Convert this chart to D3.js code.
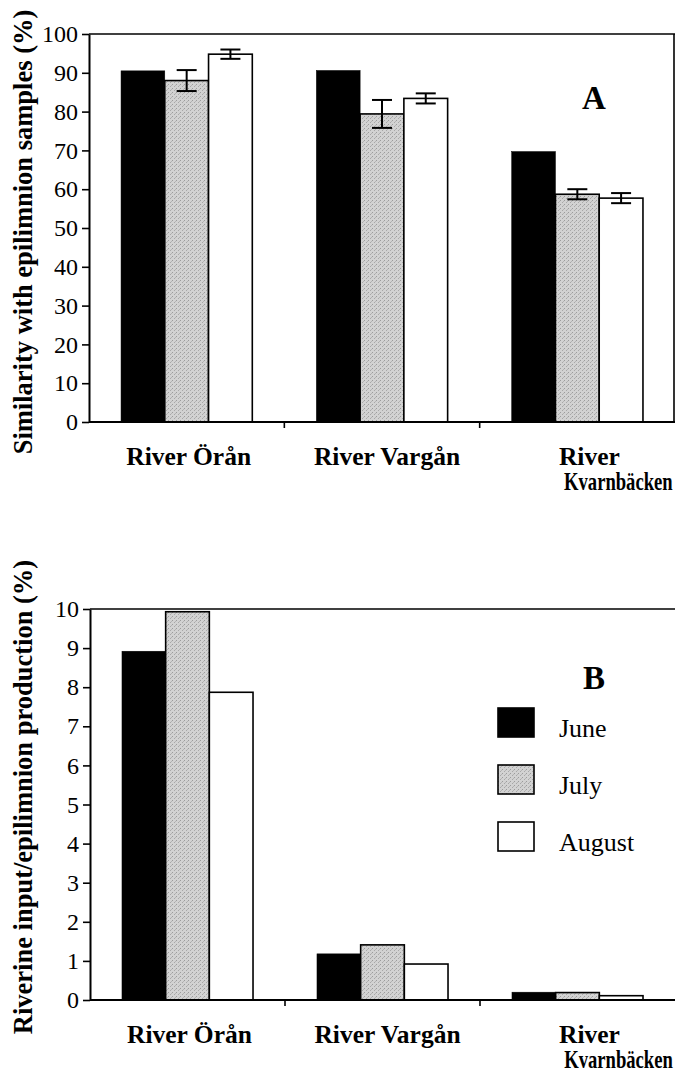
<!DOCTYPE html>
<html>
<head>
<meta charset="utf-8">
<script src="https://cdn.jsdelivr.net/npm/d3@7/dist/d3.min.js"></script>
<style>
  body { margin: 0; background: #fff; }
  svg { display: block; }
  text { font-family: "Liberation Serif", "Times New Roman", serif; fill: #000; }
</style>
</head>
<body>
<svg id="chart"></svg>
<script>
// Data
const categories = ["River Örån", "River Vargån", "River Kvarnbäcken"];
const categoryLines = [["River Örån"], ["River Vargån"], ["River", "Kvarnbäcken"]];
const months = ["June", "July", "August"];

// Panel A: similarity with epilimnion samples (%)
const similarityJune = [90.5, 90.6, 69.7];
const similarityJuly = [88.0, 79.4, 58.7];
const similarityAugust = [94.8, 83.4, 57.7];
const similarityJulyErr = [2.7, 3.6, 1.3];
const similarityAugustErr = [1.2, 1.3, 1.3];
const similarityTicks = [0, 10, 20, 30, 40, 50, 60, 70, 80, 90, 100];

// Panel B: riverine input / epilimnion production (%)
const inputJune = [8.92, 1.18, 0.20];
const inputJuly = [9.93, 1.41, 0.19];
const inputAugust = [7.87, 0.92, 0.11];
const inputTicks = [0, 1, 2, 3, 4, 5, 6, 7, 8, 9, 10];

const width = 675;
const height = 1073;

const svg = d3.select("#chart").attr("width", width).attr("height", height);
svg.append("rect").attr("width", width).attr("height", height).attr("fill", "#fff");

// stippled grey like the printed figure
const defs = svg.append("defs");
const pat = defs.append("pattern")
  .attr("id", "stipple")
  .attr("width", 4).attr("height", 4)
  .attr("patternUnits", "userSpaceOnUse");
pat.append("rect").attr("width", 4).attr("height", 4).attr("fill", "#d2d2d2");
pat.append("rect").attr("x", 0).attr("y", 0).attr("width", 1).attr("height", 1).attr("fill", "#9c9c9c");
pat.append("rect").attr("x", 2).attr("y", 2).attr("width", 1).attr("height", 1).attr("fill", "#a8a8a8");
pat.append("rect").attr("x", 3).attr("y", 1).attr("width", 1).attr("height", 1).attr("fill", "#b4b4b4");

const monthFill = { June: "#000", July: "url(#stipple)", August: "#fff" };

function drawPanel(cfg) {
  const x0 = d3.scaleBand().domain(categories).range([cfg.left, cfg.right]);
  const bw = x0.bandwidth();
  const groupW = bw * 0.672;
  const x1 = d3.scaleBand().domain(months)
    .range([(bw - groupW) / 2, (bw + groupW) / 2]);
  const y = d3.scaleLinear().domain([0, cfg.max]).range([cfg.bottom, cfg.top]);

  const g = svg.append("g");

  // bars
  months.forEach((m, mi) => {
    const vals = cfg.series[mi];
    g.selectAll(null)
      .data(vals)
      .enter()
      .append("rect")
      .attr("x", (d, i) => x0(categories[i]) + x1(m))
      .attr("y", d => y(d))
      .attr("width", x1.bandwidth())
      .attr("height", d => y(0) - y(d))
      .attr("fill", monthFill[m])
      .attr("stroke", "#000")
      .attr("stroke-width", m === "June" ? 0.5 : 1.6);
  });

  // error bars
  if (cfg.errors) {
    cfg.errors.forEach(eb => {
      const mi = months.indexOf(eb.month);
      eb.err.forEach((e, i) => {
        const v = cfg.series[mi][i];
        const cx = x0(categories[i]) + x1(eb.month) + x1.bandwidth() / 2;
        const eg = g.append("g").attr("stroke", "#000").attr("stroke-width", 2);
        eg.append("line").attr("x1", cx).attr("x2", cx).attr("y1", y(v - e)).attr("y2", y(v + e));
        eg.append("line").attr("x1", cx - 10).attr("x2", cx + 10).attr("y1", y(v - e)).attr("y2", y(v - e));
        eg.append("line").attr("x1", cx - 10).attr("x2", cx + 10).attr("y1", y(v + e)).attr("y2", y(v + e));
      });
    });
  }

  // frame lines
  g.append("line").attr("x1", cfg.left).attr("x2", cfg.right)
    .attr("y1", cfg.top).attr("y2", cfg.top)
    .attr("stroke", "#000").attr("stroke-width", 1.6);
  if (cfg.rightBorder) {
    g.append("line").attr("x1", cfg.right - 1).attr("x2", cfg.right - 1)
      .attr("y1", cfg.top).attr("y2", cfg.bottom)
      .attr("stroke", "#000").attr("stroke-width", 1.6);
  }
  g.append("line").attr("x1", cfg.left).attr("x2", cfg.right)
    .attr("y1", cfg.bottom).attr("y2", cfg.bottom)
    .attr("stroke", "#000").attr("stroke-width", 2);

  // y axis
  const yAxis = g.append("g")
    .attr("transform", `translate(${cfg.left},0)`)
    .call(d3.axisLeft(y).tickValues(cfg.ticks).tickSize(7).tickSizeOuter(0).tickPadding(4));
  yAxis.attr("font-family", null);
  yAxis.select(".domain").attr("stroke", "#000").attr("stroke-width", 2);
  yAxis.selectAll(".tick line").attr("stroke", "#000").attr("stroke-width", 1.6);
  yAxis.selectAll(".tick text")
    .style("font-family", '"Liberation Serif", serif')
    .style("font-size", "24px")
    .attr("fill", "#000");

  // category boundary ticks
  g.selectAll(null)
    .data(categories.slice(1))
    .enter()
    .append("line")
    .attr("x1", d => x0(d)).attr("x2", d => x0(d))
    .attr("y1", cfg.bottom).attr("y2", cfg.bottom + 6)
    .attr("stroke", "#000").attr("stroke-width", 1.6);

  // category labels
  categoryLines.forEach((lines, i) => {
    const cx = x0(categories[i]) + bw / 2;
    lines.forEach((t, li) => {
      const ly = cfg.bottom + 43 + li * 25;
      const lx = cx + cfg.labelNudge[i][li];
      const txt = g.append("text")
        .attr("text-anchor", "middle")
        .style("font-size", "25.5px")
        .style("font-weight", "bold")
        .text(t);
      if (t === "Kvarnbäcken") {
        // squeezed horizontally in the original so it fits the page edge
        txt.attr("transform", `translate(${lx},${ly}) scale(0.73,1)`);
      } else {
        txt.attr("x", lx).attr("y", ly);
      }
    });
  });

  // y axis title
  svg.append("text")
    .attr("transform", `translate(32,${cfg.titleY}) rotate(-90)`)
    .attr("text-anchor", "middle")
    .style("font-size", "26.5px")
    .style("font-weight", "bold")
    .text(cfg.title);

  // panel letter
  svg.append("text")
    .attr("x", 594).attr("y", cfg.letterY)
    .attr("text-anchor", "middle")
    .style("font-size", "33px")
    .style("font-weight", "bold")
    .text(cfg.letter);

  return { x0, y };
}

drawPanel({
  left: 89, right: 675, top: 34, bottom: 422, max: 100,
  ticks: similarityTicks,
  series: [similarityJune, similarityJuly, similarityAugust],
  errors: [
    { month: "July", err: similarityJulyErr },
    { month: "August", err: similarityAugustErr }
  ],
  rightBorder: true,
  labelNudge: [[2], [5], [12, 41]],
  title: "Similarity with epilimnion samples (%)",
  titleY: 232,
  letter: "A",
  letterY: 109
});

drawPanel({
  left: 90, right: 675, top: 609, bottom: 1000, max: 10,
  ticks: inputTicks,
  series: [inputJune, inputJuly, inputAugust],
  errors: null,
  rightBorder: false,
  labelNudge: [[2], [5], [12, 41]],
  title: "Riverine input/epilimnion production (%)",
  titleY: 797,
  letter: "B",
  letterY: 689
});

// legend (panel B)
const legend = svg.append("g").attr("transform", "translate(498,708)");
months.forEach((m, i) => {
  const row = legend.append("g").attr("transform", `translate(0,${i * 57})`);
  row.append("rect")
    .attr("width", 36).attr("height", 29)
    .attr("fill", monthFill[m])
    .attr("stroke", "#000").attr("stroke-width", 1.6);
  row.append("text")
    .attr("x", 61).attr("y", 29)
    .style("font-size", "26px")
    .text(m);
});
</script>
</body>
</html>
